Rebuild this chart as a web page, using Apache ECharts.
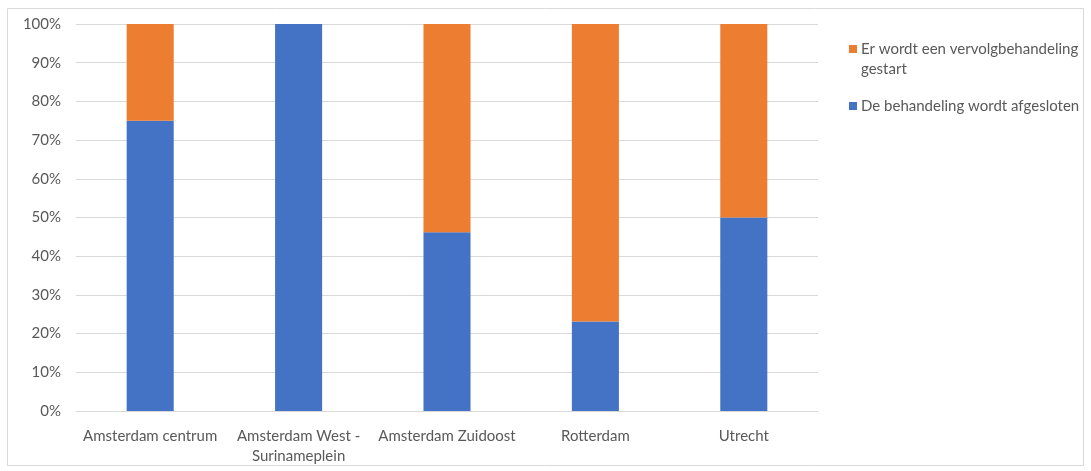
<!DOCTYPE html>
<html>
<head>
<meta charset="utf-8">
<script src="https://cdn.jsdelivr.net/npm/echarts@6/dist/echarts.min.js"></script>
<style>html,body{margin:0;padding:0;background:#fff}#c{width:1091px;height:471px}</style>
</head>
<body>
<div id="c"></div>
<script>
const categories = ['Amsterdam centrum', 'Amsterdam West -\nSurinameplein', 'Amsterdam Zuidoost', 'Rotterdam', 'Utrecht'];
const afgesloten = [75, 100, 46.2, 23.1, 50];
const vervolg = [25, 0, 53.8, 76.9, 50];
const seriesNames = ['De behandeling wordt afgesloten', 'Er wordt een vervolgbehandeling gestart'];
const legendLabels = {'Er wordt een vervolgbehandeling gestart': 'Er wordt een vervolgbehandeling\ngestart'};

const font = 'Lato, "Open Sans", sans-serif';
const iconTop = 'path://M0,0h8v8h-8z M0,28h0.01v0.01h-0.01z';
const iconMid = 'path://M0,0h0.01v0.01h-0.01z M0,10h8v8h-8z M0,28h0.01v0.01h-0.01z';
const chart = echarts.init(document.getElementById('c'));
chart.setOption({
  animation: false,
  textStyle: {fontFamily: font},
  graphic: [{type: 'rect', shape: {x: 7.5, y: 8.5, width: 1076, height: 457}, style: {fill: 'none', stroke: '#d9d9d9', lineWidth: 1}, silent: true}],
  grid: {left: 76, right: 273, top: 24, bottom: 60},
  legend: {
    orient: 'vertical', left: 849, top: 39, padding: 0,
    data: [{name: seriesNames[1], icon: iconTop}, {name: seriesNames[0], icon: iconMid}],
    itemWidth: 8, itemHeight: 28, itemGap: 13, symbolKeepAspect: false,
    formatter: n => legendLabels[n] || n,
    textStyle: {color: '#595959', fontSize: 15, fontFamily: font, lineHeight: 20, padding: [0, 0, 0, -1]}
  },
  xAxis: {
    type: 'category', data: categories,
    axisLine: {lineStyle: {color: '#d9d9d9'}}, axisTick: {show: false},
    axisLabel: {color: '#595959', fontSize: 15, fontFamily: font, margin: 15, lineHeight: 20, interval: 0}
  },
  yAxis: {
    type: 'value', min: 0, max: 100, interval: 10,
    axisLabel: {formatter: '{value}%', color: '#595959', fontSize: 15, fontFamily: font, margin: 15},
    splitLine: {lineStyle: {color: '#d9d9d9'}},
    axisLine: {show: false}, axisTick: {show: false}
  },
  series: [
    {name: seriesNames[0], type: 'bar', stack: 's', data: afgesloten, barWidth: '31.7%', itemStyle: {color: '#4472c4'}},
    {name: seriesNames[1], type: 'bar', stack: 's', data: vervolg, barWidth: '31.7%', itemStyle: {color: '#ed7d31'}}
  ]
});
</script>
</body>
</html>
